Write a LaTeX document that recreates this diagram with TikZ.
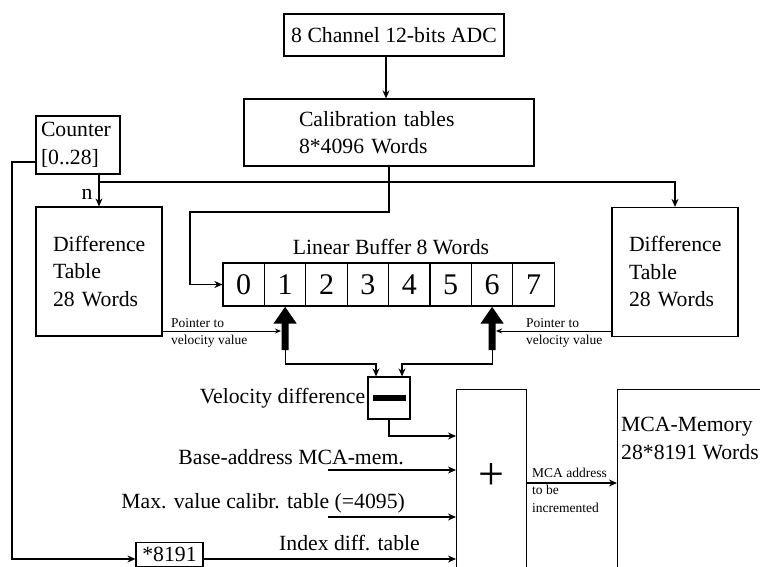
\documentclass[tikz,border=0pt]{standalone}
\usepackage{fontspec}
\setmainfont{Liberation Serif}
\usetikzlibrary{arrows.meta, positioning}
\tikzstyle{box} = [
    rectangle,
    draw=black,
    line width=1.2pt,
    inner sep=0pt
]
\tikzstyle{tablebox} = [
    box,
    minimum width=126pt,
    minimum height=129pt,
    text width=92pt,
    align=left
]
\tikzstyle{cell} = [
    box,
    minimum width=41.4pt,
    minimum height=43pt,
    font=\fontsize{30}{30}\selectfont
]
\tikzstyle{small} = [
    font=\fontsize{13.5}{17.5}\selectfont,
    align=left,
    inner sep=0pt
]
\tikzstyle{inlabel} = [anchor=east, inner sep=0pt]
\tikzstyle{arrow} = [line width=1.2pt,-{Stealth[length=8pt,width=7pt]}]
\tikzstyle{ptrarrow} = [line width=1pt,-{Stealth[length=6pt,width=5pt]}]
\tikzstyle{fatarrow} = [line width=7pt,-{Triangle[length=17pt,width=22pt]}]

\begin{document}
\begin{tikzpicture}[x=1pt, y=-1pt, font=\fontsize{21.7}{27.5}\selectfont]

\useasboundingbox (0,0) rectangle (760,567);

\node (adc) [box, minimum width=220pt, minimum height=42pt] at (394,35)
{8 Channel 12-bits ADC};

\node (calib) [box, minimum width=290pt, minimum height=67pt,
    text width=180pt, align=left] at (389,132.5)
{Calibration tables\\8*4096 Words};

\node (counter) [box, minimum width=84pt, minimum height=58pt,
    text width=74pt, align=left] at (78,145)
{Counter\\{}[0..28]};

\node (nlabel) at (87,194) {n};

\node (difl) [tablebox] at (99,271.5)
{Difference\\Table\\28 Words};

\node (difr) [tablebox] at (675,272)
{Difference\\Table\\28 Words};

\node (buflabel) at (391,247) {Linear Buffer 8 Words};

\foreach \i in {0,...,7}
    \node (c\i) [cell] at (243.7+41.4*\i,284.5) {\i};

\node (ptrltext) [small, anchor=west] at (171,333)
{Pointer to\\velocity value};

\node (ptrrtext) [small, anchor=west] at (526,333)
{Pointer to\\velocity value};

\node (velo) [box, minimum width=42pt, minimum height=42pt] at (389,398) {};

\node (minus) [fill=black, minimum width=33pt, minimum height=6pt,
    inner sep=0pt] at (velo) {};

\node (velolabel) [left=2pt of velo, inner sep=0pt] {Velocity difference};

\node (adder) [box, minimum width=70pt, minimum height=240pt,
    anchor=north west] at (456,389) {};

\node (plus) at (491,477) {\fontsize{46}{46}\selectfont +};

\node (mca) [box, minimum width=200pt, minimum height=240pt,
    anchor=north west] at (617,389) {};

\node (mcatext) [anchor=north west, align=left, inner sep=0pt] at (621,417)
{MCA-Memory\\28*8191 Words};

\node (mcaaddr) [small, anchor=west] at (532,490)
{MCA address\\to be\\incremented};

\node (baselabel) [inlabel] at (404,457) {Base-address MCA-mem.};

\node (maxlabel) [inlabel] at (405,503) {Max. value calibr. table (=4095)};

\node (idxlabel) [inlabel] at (420,543) {Index diff. table};

\node (mul) [box, minimum width=67pt, minimum height=24pt, anchor=north]
    at (169.5,542) {*8191};

\coordinate (nsplit) at (99,182);
\coordinate (bufin) at (190,212);
\coordinate (p1) at (285.1,350);
\coordinate (p6) at (492.1,350);
\coordinate (j1) at (376,364);
\coordinate (j6) at (402,364);
\coordinate (ptrl) at (281,331);
\coordinate (ptrr) at (496,331);
\coordinate (yvel) at (0,436);
\coordinate (basein) at (328,470);
\coordinate (maxin) at (328,517);
\coordinate (yidx) at (0,559);
\coordinate (ymca) at (0,483);
\coordinate (cnt) at (12,162);

\draw [arrow] ([xshift=-8pt]adc.south) -- ([xshift=-8pt]adc.south |- calib.north);
\draw [arrow] (calib.south) |- (bufin) |- (c0.west);
\draw [arrow] (counter.south -| difl.north) -- (difl.north);
\draw [arrow] (nsplit) -| (difr.north);
\draw [ptrarrow] (difl.east |- ptrl) -- (ptrl);
\draw [ptrarrow] (difr.west |- ptrr) -- (ptrr);
\draw [fatarrow] (p1) -- (c1.south);
\draw [fatarrow] (p6) -- (c6.south);
\draw [arrow] (p1) |- (j1) -- (j1 |- velo.north);
\draw [arrow] (p6) |- (j6) -- (j6 |- velo.north);
\draw [arrow] (velo.south) |- (adder.west |- yvel);
\draw [arrow] (basein) -- (basein -| adder.west);
\draw [arrow] (maxin) -- (maxin -| adder.west);
\draw [arrow] (mul.east |- yidx) -- (adder.west |- yidx);
\draw [arrow] (adder.east |- ymca) -- (mca.west |- ymca);
\draw [arrow] (counter.west |- cnt) -- (cnt) |- (mul.west |- yidx);

\end{tikzpicture}
\end{document}
